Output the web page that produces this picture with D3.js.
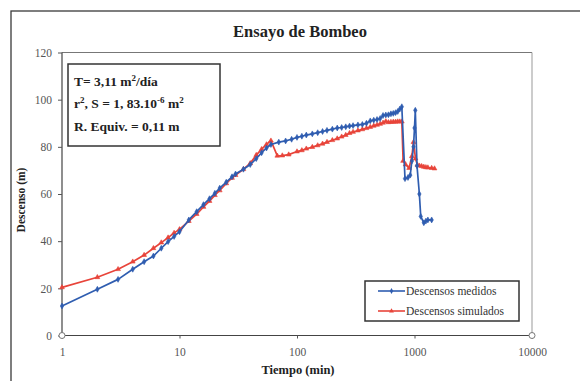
<!DOCTYPE html>
<html>
<head>
<meta charset="utf-8">
<script src="https://cdn.jsdelivr.net/npm/d3@7"></script>
<style>
  html, body { margin: 0; padding: 0; background: #fff; }
  svg { display: block; font-family: "Liberation Serif", "DejaVu Serif", serif; }
</style>
</head>
<body>
<svg id="chart" width="580" height="381"></svg>
<script>
// Pumping test: measured vs simulated drawdown against time (log scale)
const title = "Ensayo de Bombeo";
const xTitle = "Tiempo (min)";
const yTitle = "Descenso (m)";
const xTicks = [1, 10, 100, 1000, 10000];
const yTicks = [0, 20, 40, 60, 80, 100, 120];
const seriesNames = ["Descensos medidos", "Descensos simulados"];

// Measured drawdown
const timeMeasured = [1, 2, 3, 4, 5, 6, 7, 8, 9, 10, 12, 14, 16, 18, 20, 22, 25, 28, 30, 35, 40, 45, 50, 55, 60,
  70, 80, 90, 100, 110, 120, 135, 150, 165, 180, 200, 220, 240, 260, 280, 300, 330, 360, 390, 420, 450, 480, 510,
  540, 570, 600, 630, 660, 690, 720, 750, 780, 830, 880, 920, 950, 980, 1000, 1016, 1050, 1100, 1130, 1200, 1250, 1300, 1400];
const descMeasured = [12.5, 19.6, 23.8, 28.1, 31.3, 33.7, 37, 39.8, 42, 44, 49, 52.5, 55.5, 58, 60.3, 62.5, 65, 67.3, 68.5, 70.5, 72.5, 75, 77.5, 79.5, 81,
  82, 82.5, 83.2, 84, 84.5, 85, 85.5, 86, 86.5, 87, 87.5, 88, 88.2, 88.5, 88.8, 89, 89.3, 89.5, 90, 91, 91.3, 91.6, 92,
  93.3, 93.5, 93.6, 94, 94.2, 94.5, 95, 96, 97, 66.5, 67, 68, 74, 80, 88, 95.5, 72, 60, 50.5, 47.8, 48.5, 49, 49];

// Simulated drawdown
const timeSimulated = [1, 2, 3, 4, 5, 6, 7, 8, 9, 10, 12, 14, 16, 18, 20, 22, 25, 28, 30, 35, 40, 45, 50, 55, 60,
  68, 75, 85, 100, 110, 120, 135, 150, 165, 180, 200, 220, 240, 260, 280, 300, 330, 360, 390, 420, 450, 480, 510,
  540, 570, 600, 630, 660, 690, 720, 750, 780, 800, 840, 900, 950, 980, 1020, 1060, 1100, 1150, 1200, 1250, 1300, 1400, 1480];
const descSimulated = [20.4, 24.7, 28.1, 31.3, 34.1, 37, 39.4, 41.5, 43.5, 45, 48.5, 51.5, 54.5, 57, 59.5, 61.5, 64.5, 66.8, 68, 70.5, 73, 76.5, 79, 81, 82.6,
  76.2, 76.3, 76.7, 78, 78.5, 79.2, 79.9, 80.6, 81.3, 82, 82.8, 83.5, 84.3, 85, 85.8, 86.3, 86.9, 87.4, 87.9, 88.4, 88.9, 89.3, 89.7,
  90.2, 90.8, 90.4, 90.5, 90.6, 90.6, 90.7, 90.7, 90.7, 74, 72.5, 71, 76, 82, 75, 72.3, 72, 71.8, 71.5, 71.3, 71.2, 71, 70.8];

const blue = "#2f5db0";
const red = "#e8443a";

const svg = d3.select("#chart");

// Outer chart frame (only top and left edges fall inside the page)
svg.append("rect")
  .attr("x", 11).attr("y", 11).attr("width", 620).attr("height", 420)
  .attr("fill", "none").attr("stroke", "#3a3a3a").attr("stroke-width", 1.3);

const x = d3.scaleLog().domain([1, 10000]).range([62, 532]);
const y = d3.scaleLinear().domain([0, 120]).range([335.5, 52.5]);

// Plot area border
svg.append("line").attr("x1", x(1)).attr("x2", x(10000)).attr("y1", y(120)).attr("y2", y(120))
  .attr("stroke", "#777").attr("stroke-width", 1);
svg.append("line").attr("x1", x(10000)).attr("x2", x(10000)).attr("y1", y(120)).attr("y2", y(0))
  .attr("stroke", "#999").attr("stroke-width", 1);

// Axes
const yAxis = d3.axisLeft(y).tickValues(yTicks).tickSize(4).tickPadding(6).tickFormat(d3.format("d"));
const gy = svg.append("g").attr("transform", `translate(${x(1)},0)`).call(yAxis);
const xAxis = d3.axisBottom(x).tickValues(xTicks).tickSize(3).tickPadding(9).tickFormat(d3.format("d"));
const gx = svg.append("g").attr("transform", `translate(0,${y(0)})`).call(xAxis);
[gx, gy].forEach(g => {
  g.select(".domain").attr("stroke", "#444").attr("stroke-width", 1.2);
  g.selectAll(".tick line").attr("stroke", "#555");
  g.selectAll(".tick text").attr("fill", "#555").attr("font-size", 11.5)
    .attr("font-family", "Liberation Serif, serif");
});
gx.select(".domain").attr("d", `M${x(1)},0H${x(10000)}`);
gy.select(".domain").attr("d", `M0,${y(0)}V${y(120)}`);

// Corner markers of the plot area
[[x(1), y(0)], [x(10000), y(0)]].forEach(([cx, cy]) => {
  svg.append("circle").attr("cx", cx).attr("cy", cy).attr("r", 3)
    .attr("fill", "#fff").attr("stroke", "#777").attr("stroke-width", 1);
});

// Titles
svg.append("text").attr("x", 300).attr("y", 37).attr("text-anchor", "middle")
  .attr("font-weight", "bold").attr("font-size", 16.5).attr("fill", "#222").text(title);
svg.append("text").attr("x", 298).attr("y", 374).attr("text-anchor", "middle")
  .attr("font-weight", "bold").attr("font-size", 12.5).attr("fill", "#222").text(xTitle);
svg.append("text").attr("transform", "translate(25,200) rotate(-90)").attr("text-anchor", "middle")
  .attr("font-weight", "bold").attr("font-size", 11.5).attr("fill", "#222").text(yTitle);

// Series
const measured = timeMeasured.map((t, i) => [t, descMeasured[i]]);
const simulated = timeSimulated.map((t, i) => [t, descSimulated[i]]);
const line = d3.line().x(d => x(d[0])).y(d => y(d[1]));

function drawSeries(data, color, symbolType) {
  svg.append("path").datum(data).attr("d", line)
    .attr("fill", "none").attr("stroke", color).attr("stroke-width", 1.7).attr("stroke-linejoin", "round");
  svg.append("g").selectAll("path").data(data).join("path")
    .attr("transform", d => `translate(${x(d[0])},${y(d[1])})`)
    .attr("d", d3.symbol().type(symbolType).size(10))
    .attr("fill", color).attr("stroke", color).attr("stroke-width", 0.6);
}
drawSeries(simulated, red, d3.symbolTriangle);
drawSeries(measured, blue, d3.symbolDiamond);

// Parameter box
const box = svg.append("g");
box.append("rect").attr("x", 68).attr("y", 64).attr("width", 152).attr("height", 82)
  .attr("fill", "#fff").attr("stroke", "#333").attr("stroke-width", 1.5);
const fs = 13.5, sup = 9;
const t1 = box.append("text").attr("x", 74).attr("y", 86).attr("font-weight", "bold").attr("font-size", fs).attr("fill", "#222");
t1.append("tspan").text("T= 3,11 m");
t1.append("tspan").attr("dy", -5.5).attr("font-size", sup).text("2");
t1.append("tspan").attr("dy", 5.5).text("/día");
const t2 = box.append("text").attr("x", 74).attr("y", 108).attr("font-weight", "bold").attr("font-size", fs).attr("fill", "#222");
t2.append("tspan").text("r");
t2.append("tspan").attr("dy", -5.5).attr("font-size", sup).text("2");
t2.append("tspan").attr("dy", 5.5).text(", S = 1, 83.10");
t2.append("tspan").attr("dy", -5.5).attr("font-size", sup).text("-6");
t2.append("tspan").attr("dy", 5.5).text(" m");
t2.append("tspan").attr("dy", -5.5).attr("font-size", sup).text("2");
box.append("text").attr("x", 74).attr("y", 131).attr("font-weight", "bold").attr("font-size", fs).attr("fill", "#222")
  .text("R. Equiv. = 0,11 m");

// Legend
const lg = svg.append("g");
lg.append("rect").attr("x", 365).attr("y", 281).attr("width", 154).attr("height", 40)
  .attr("fill", "#fff").attr("stroke", "#333").attr("stroke-width", 1.5);
[[seriesNames[0], blue, d3.symbolDiamond, 291], [seriesNames[1], red, d3.symbolTriangle, 311]].forEach(([name, c, sym, ly]) => {
  lg.append("line").attr("x1", 378).attr("x2", 405).attr("y1", ly).attr("y2", ly)
    .attr("stroke", c).attr("stroke-width", 1.6);
  lg.append("path").attr("transform", `translate(391.5,${ly})`).attr("d", d3.symbol().type(sym).size(10)).attr("fill", c);
  lg.append("text").attr("x", 406).attr("y", ly + 4).attr("font-size", 11.5).attr("fill", "#333").text(name);
});
</script>
</body>
</html>
